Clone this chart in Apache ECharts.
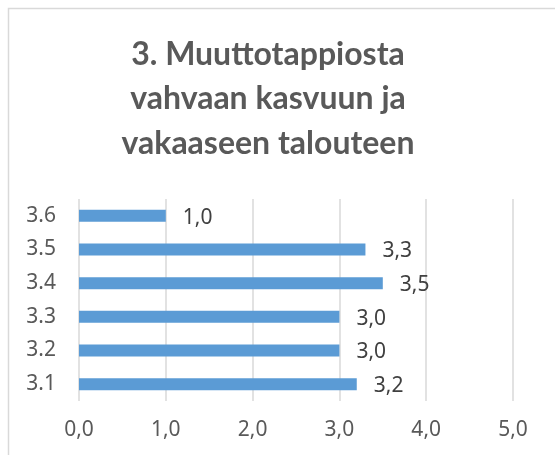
<!DOCTYPE html>
<html>
<head>
<meta charset="utf-8">
<script src="https://cdn.jsdelivr.net/npm/echarts@6/dist/echarts.min.js"></script>
<style>html,body{margin:0;padding:0;background:#fff}#c{width:555px;height:455px}</style>
</head>
<body>
<div id="c"></div>
<script>
const titleText = "3. Muuttotappiosta\nvahvaan kasvuun ja\nvakaaseen talouteen";
const categories = ["3.1", "3.2", "3.3", "3.4", "3.5", "3.6"];
const values = [3.2, 3.0, 3.0, 3.5, 3.3, 1.0];
const xTicks = [0, 1, 2, 3, 4, 5];

const fmt = v => Number(v).toFixed(1).replace('.', ',');
const lblFont = '"Noto Sans", sans-serif';
const chart = echarts.init(document.getElementById('c'), null, {renderer: 'canvas'});
chart.setOption({
  animation: false,
  backgroundColor: '#ffffff',
  graphic: [{
    type: 'rect', silent: true,
    shape: {x: 8.5, y: 8.5, width: 600, height: 500},
    style: {fill: 'none', stroke: '#d9d9d9', lineWidth: 1.5}
  }],
  title: {
    text: titleText,
    left: 263, top: 27, textAlign: 'center',
    textStyle: {fontFamily: 'Lato', fontWeight: 'bold', fontSize: 32, lineHeight: 44.5, color: '#595959'}
  },
  grid: {left: 79, right: 42, top: 199, bottom: 54, containLabel: false},
  xAxis: {
    type: 'value', min: xTicks[0], max: xTicks[xTicks.length - 1], interval: 1,
    axisLine: {show: false}, axisTick: {show: false},
    splitLine: {show: true, lineStyle: {color: '#d9d9d9', width: 1.5}},
    axisLabel: {formatter: fmt, fontFamily: lblFont, fontSize: 21, color: '#595959', margin: 19}
  },
  yAxis: {
    type: 'category', data: categories,
    axisLine: {show: false}, axisTick: {show: false},
    axisLabel: {fontFamily: lblFont, fontSize: 21, color: '#595959', margin: 23}
  },
  series: [{
    type: 'bar', data: values, barWidth: 12,
    itemStyle: {color: '#5b9bd5'},
    label: {show: true, position: 'right', distance: 17, formatter: p => fmt(p.value),
      fontFamily: lblFont, fontSize: 21, color: '#404040', offset: [0, 2]}
  }]
});
</script>
</body>
</html>
